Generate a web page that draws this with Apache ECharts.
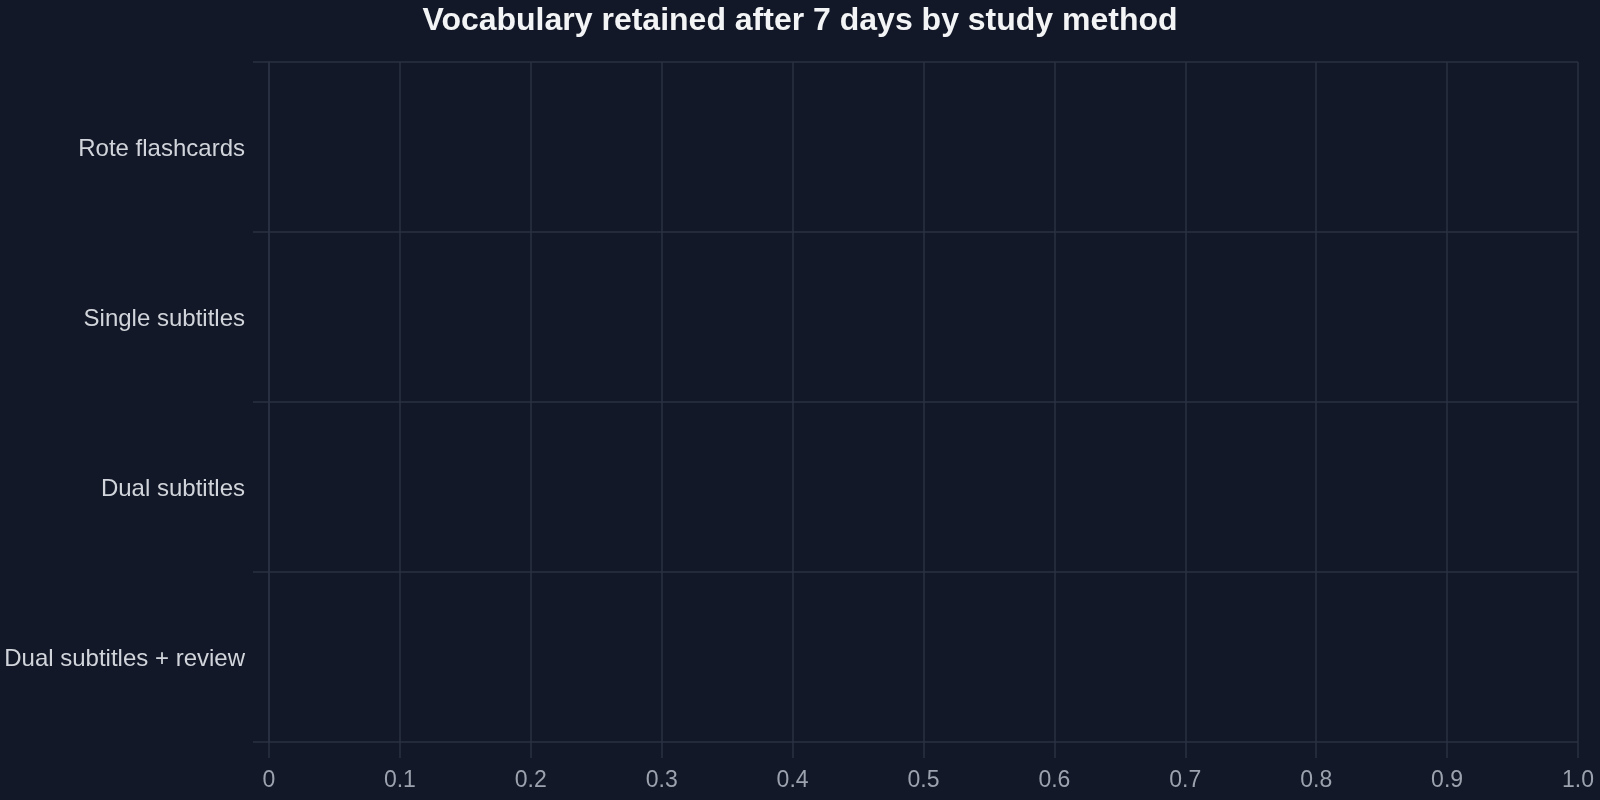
<!DOCTYPE html>
<html>
<head>
<meta charset="utf-8">
<style>
  html, body { margin: 0; padding: 0; background: #121827; }
  #chart { width: 1600px; height: 800px; }
</style>
<script src="https://cdn.jsdelivr.net/npm/echarts@6/dist/echarts.min.js"></script>
</head>
<body>
<div id="chart"></div>
<script>
// Data
const chartTitle = 'Vocabulary retained after 7 days by study method';
const methods = ['Rote flashcards', 'Single subtitles', 'Dual subtitles', 'Dual subtitles + review'];
// No bars are visible in the reference: values are absent
const retained = [null, null, null, null];
const xTicks = { min: 0, max: 1, interval: 0.1 };

const lineColor = '#2a3243';
const chart = echarts.init(document.getElementById('chart'), null, { renderer: 'canvas' });
chart.setOption({
  backgroundColor: '#121827',
  animation: false,
  textStyle: { fontFamily: '"Liberation Sans", Arial, sans-serif' },
  title: {
    text: chartTitle,
    left: 'center',
    top: 0,
    textStyle: { color: '#f3f4f6', fontSize: 32, fontWeight: 'bold', fontFamily: '"Liberation Sans", Arial, sans-serif' }
  },
  grid: { left: 269, right: 22, top: 62, bottom: 58, containLabel: false },
  xAxis: {
    type: 'value',
    min: xTicks.min,
    max: xTicks.max,
    interval: xTicks.interval,
    axisLine: { show: false },
    axisTick: { show: true, length: 16, lineStyle: { color: lineColor, width: 1.5 } },
    splitLine: { show: true, lineStyle: { color: lineColor, width: 1.5 } },
    axisLabel: {
      color: '#9ca3af',
      fontSize: 23,
      margin: 27,
      formatter: v => (v === 0 ? '0' : v.toFixed(1))
    }
  },
  yAxis: {
    type: 'category',
    data: methods,
    inverse: true,
    boundaryGap: true,
    axisLine: { show: true, lineStyle: { color: lineColor, width: 1.5 } },
    axisTick: { show: true, length: 16, lineStyle: { color: lineColor, width: 1.5 } },
    splitLine: { show: true, lineStyle: { color: lineColor, width: 1.5 } },
    axisLabel: {
      color: '#d1d5db',
      fontSize: 24,
      margin: 24,
      formatter: v => '{m|' + v + '}',
      rich: { m: { color: '#d1d5db', fontSize: 24, padding: [5, 0, 0, 0] } }
    }
  },
  series: [{
    type: 'bar',
    name: 'Retained',
    data: retained,
    itemStyle: { color: '#60a5fa' }
  }]
});
</script>
</body>
</html>
